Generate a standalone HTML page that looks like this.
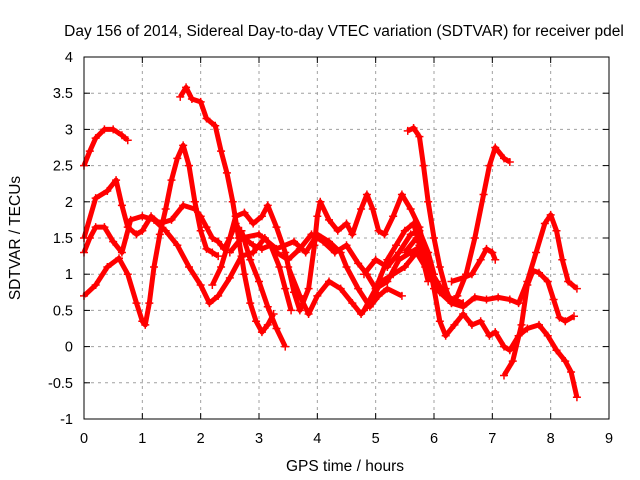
<!DOCTYPE html>
<html><head><meta charset="utf-8"><style>
body{margin:0;background:#fff}
svg{display:block;font-family:"Liberation Sans",sans-serif}
</style></head><body>
<svg id="chart" width="640" height="480">
<text x="344" y="36" font-size="15.5" text-anchor="middle">Day 156 of 2014, Sidereal Day-to-day VTEC variation (SDTVAR) for receiver pdel</text>
<text x="345" y="471" font-size="15.5" text-anchor="middle">GPS time / hours</text>
<text transform="translate(20,238) rotate(-90)" font-size="15.5" text-anchor="middle">SDTVAR / TECUs</text>
<g id="grid"></g>
<g id="series"></g>
<rect x="84" y="57" width="525" height="362" fill="none" stroke="#000" stroke-width="1"/>
</svg>
<script>
const xTicks=[0,1,2,3,4,5,6,7,8,9];
const yTicks=[-1,-0.5,0,0.5,1,1.5,2,2.5,3,3.5,4];
const s1=[[0,2.5],[0.1,2.7],[0.2,2.88],[0.35,3.0],[0.5,3.0],[0.65,2.92],[0.75,2.85]];
const s2=[[1.65,3.45],[1.75,3.58],[1.85,3.42],[2.0,3.38],[2.1,3.15],[2.25,3.05],[2.35,2.7],[2.45,2.4],[2.55,2.0],[2.65,1.5],[2.75,1.0],[2.85,0.6],[2.95,0.35],[3.05,0.2],[3.15,0.3],[3.25,0.45]];
const s3=[[0,0.7],[0.2,0.85],[0.4,1.1],[0.6,1.22],[0.75,1.0],[0.9,0.6],[1.0,0.35],[1.05,0.3],[1.12,0.6],[1.2,1.1],[1.3,1.55],[1.4,1.9],[1.5,2.3],[1.6,2.6],[1.7,2.78],[1.8,2.5],[1.9,2.0],[2.0,1.6],[2.1,1.35],[2.2,1.3],[2.3,1.25]];
const s4=[[0,1.5],[0.2,2.05],[0.4,2.15],[0.55,2.3],[0.65,1.95],[0.75,1.65],[0.9,1.55],[1.0,1.6],[1.15,1.8],[1.3,1.7],[1.5,1.75],[1.7,1.95],[1.9,1.9],[2.0,1.8],[2.1,1.65],[2.2,1.5],[2.3,1.45],[2.4,1.35],[2.5,1.5],[2.6,1.8],[2.75,1.85],[2.9,1.7],[3.05,1.8],[3.15,1.95],[3.3,1.65],[3.45,1.3],[3.6,0.75],[3.7,0.5],[3.85,0.8],[3.95,1.4],[4.0,1.8],[4.05,2.0],[4.2,1.75],[4.35,1.6],[4.5,1.7],[4.6,1.55],[4.75,1.9],[4.85,2.1],[4.95,1.9],[5.05,1.6],[5.15,1.55],[5.3,1.8],[5.45,2.1],[5.6,1.9],[5.75,1.65],[5.9,1.1],[6.05,0.9],[6.2,0.7],[6.35,0.65],[6.5,0.6]];
const s5=[[0,1.3],[0.1,1.5],[0.2,1.65],[0.35,1.65],[0.5,1.45],[0.65,1.3],[0.8,1.75],[1.0,1.8],[1.2,1.75],[1.4,1.6],[1.6,1.4],[1.8,1.1],[2.0,0.85],[2.15,0.6],[2.3,0.7],[2.5,0.95],[2.7,1.25],[2.9,1.3],[3.1,1.5],[3.3,1.3],[3.5,1.2],[3.7,1.35],[3.9,1.55],[4.1,1.45],[4.3,1.3],[4.5,1.4],[4.7,1.15],[4.85,1.0],[5.0,0.8],[5.2,0.9],[5.4,1.2],[5.6,1.3],[5.8,1.4],[5.95,1.0],[6.1,0.75],[6.3,0.6],[6.5,0.55],[6.7,0.68],[6.9,0.65],[7.1,0.68],[7.3,0.65],[7.45,0.6],[7.6,0.9],[7.75,1.3],[7.9,1.7],[8.0,1.82],[8.1,1.6],[8.2,1.2],[8.3,0.9],[8.45,0.8]];
const s6=[[5.55,2.98],[5.65,3.02],[5.75,2.9],[5.82,2.5],[5.9,2.0],[6.0,1.5],[6.1,1.1],[6.2,0.8],[6.3,0.6],[6.4,0.7],[6.55,1.0],[6.7,1.5],[6.85,2.1],[6.95,2.5],[7.05,2.75],[7.2,2.6],[7.3,2.55]];
const s7=[[5.5,1.3],[5.7,1.5],[5.9,1.2],[6.0,0.8],[6.1,0.35],[6.2,0.15],[6.35,0.3],[6.5,0.45],[6.65,0.3],[6.8,0.35],[6.95,0.15],[7.05,0.2],[7.2,0.0],[7.3,-0.05],[7.45,0.15],[7.6,0.25],[7.8,0.3],[7.95,0.15],[8.1,-0.05],[8.25,-0.2],[8.35,-0.35],[8.45,-0.7]];
const s8=[[7.2,-0.4],[7.35,-0.2],[7.5,0.3],[7.6,0.85],[7.7,1.05],[7.8,1.02],[7.95,0.9],[8.05,0.65],[8.15,0.4],[8.25,0.35],[8.4,0.42]];
const s9=[[6.3,0.9],[6.5,0.95],[6.65,1.0],[6.8,1.2],[6.9,1.35],[7.0,1.3],[7.05,1.2]];
const s10=[[3.5,1.1],[3.7,0.7],[3.85,0.45],[4.0,0.7],[4.2,0.9],[4.4,0.8],[4.6,0.6],[4.75,0.45],[4.9,0.6],[5.1,0.9],[5.3,1.0],[5.5,1.1],[5.7,1.3],[5.85,1.1],[6.0,0.9]];
const s11=[[2.2,0.85],[2.35,1.1],[2.5,1.5],[2.6,1.7],[2.75,1.5],[2.9,1.4],[3.05,1.35],[3.2,1.4],[3.35,1.1],[3.45,0.8],[3.55,0.5]];
const s12=[[2.7,1.6],[2.85,1.2],[3.0,0.9],[3.15,0.55],[3.3,0.25],[3.45,0.0]];
const s13=[[2.5,1.3],[2.7,1.5],[3.0,1.55],[3.3,1.35],[3.6,1.45],[3.8,1.3],[4.0,1.55],[4.2,1.45],[4.4,1.3],[4.5,1.1],[4.7,0.8],[4.9,0.55],[5.05,0.7],[5.2,0.8],[5.45,0.7]];
const s14=[[4.8,1.0],[5.0,1.2],[5.2,1.1],[5.4,1.3],[5.6,1.55],[5.75,1.6],[5.9,1.3],[6.0,1.0]];
const s15=[[4.8,0.5],[5.0,0.8],[5.2,1.2],[5.35,1.4],[5.5,1.6],[5.65,1.7],[5.75,1.4],[5.9,0.9]];
const allSeries=[s1,s2,s3,s4,s5,s6,s7,s8,s9,s10,s11,s12,s13,s14,s15];

const NS="http://www.w3.org/2000/svg";
const X0=84,X1=609,Y0=419,Y1=57;
function xs(t){return X0+(t-0)/(9-0)*(X1-X0);}
function ys(v){return Y0-(v+1)/(4+1)*(Y0-Y1);}
const grid=document.getElementById('grid');
const svg=document.getElementById('chart');
function mk(tag,attrs,parent){const e=document.createElementNS(NS,tag);for(const k in attrs)e.setAttribute(k,attrs[k]);parent.appendChild(e);return e;}
xTicks.forEach(t=>{
  const x=xs(t);
  if(t>0&&t<9){const g=mk('line',{x1:x,x2:x,y1:Y1,y2:Y0,stroke:'#a0a0a0','stroke-dasharray':'3,4'},grid);
  
  }
  mk('line',{x1:x,x2:x,y1:Y0,y2:Y0-6,stroke:'#000'},grid);
  mk('line',{x1:x,x2:x,y1:Y1,y2:Y1+6,stroke:'#000'},grid);
  const l=mk('text',{x:x,y:443,'font-size':14.5,'text-anchor':'middle'},svg);
  l.textContent=t;
  
  
});
yTicks.forEach(v=>{
  const y=ys(v);
  if(v>-1&&v<4){const g=mk('line',{x1:X0,x2:X1,y1:y,y2:y,stroke:'#a0a0a0','stroke-dasharray':'3,4'},grid);
  
  }
  mk('line',{x1:X0,x2:X0+6,y1:y,y2:y,stroke:'#000'},grid);
  mk('line',{x1:X1,x2:X1-6,y1:y,y2:y,stroke:'#000'},grid);
  const l=mk('text',{x:73,y:y+5,'font-size':14.5,'text-anchor':'end'},svg);
  l.textContent=v;
  
  
});
const sg=document.getElementById('series');
allSeries.forEach((s,i)=>{
  const g=mk('g',{},sg);
  
  
  const pts=s.map(p=>xs(p[0])+','+ys(p[1])).join(' ');
  const pl=mk('polyline',{points:pts,fill:'none',stroke:'#ff0000','stroke-width':5,'stroke-linejoin':'round'},g);
  
  
  s.forEach(p=>{
    const x=xs(p[0]),y=ys(p[1]);
    const m=mk('path',{d:`M${x-4},${y}H${x+4}M${x},${y-4}V${y+4}`,stroke:'#ff0000','stroke-width':1.5},g);
    
    
  });
});
</script>
</body></html>
